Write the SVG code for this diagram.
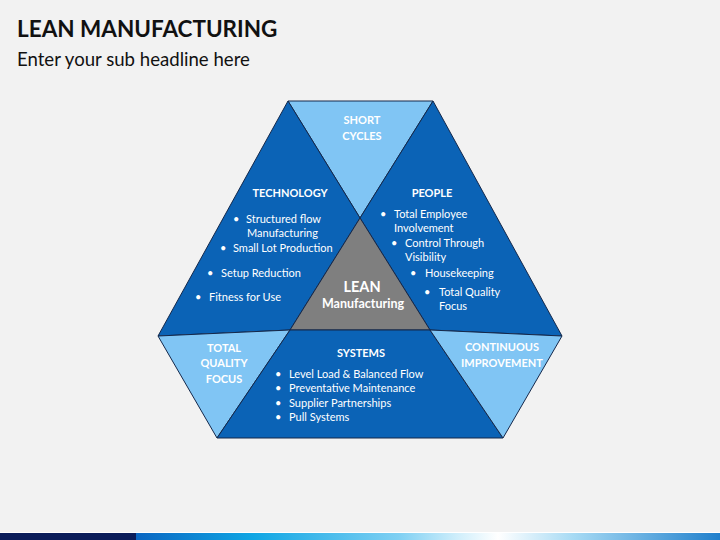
<svg xmlns="http://www.w3.org/2000/svg" width="720" height="540" viewBox="0 0 720 540">
<defs>
<linearGradient id="bar" x1="136" y1="0" x2="720" y2="0" gradientUnits="userSpaceOnUse">
<stop offset="0" stop-color="#0a66c2"/>
<stop offset="0.2" stop-color="#0fa6e4"/>
<stop offset="0.45" stop-color="#7fd0f3"/>
<stop offset="0.55" stop-color="#cfeefb"/>
<stop offset="0.62" stop-color="#ffffff"/>
<stop offset="0.75" stop-color="#a6daf4"/>
<stop offset="1" stop-color="#1f7fcc"/>
</linearGradient>
</defs>
<style>
.dark{fill:#0b63b6;stroke:#14284b;stroke-width:1;stroke-linejoin:round}
.light{fill:#80c5f4;stroke:#14284b;stroke-width:1;stroke-linejoin:round}
.core{fill:#7f7f7f;stroke:#14284b;stroke-width:1;stroke-linejoin:round}
.h{font-family:Lato,"Liberation Sans",sans-serif;font-weight:bold;font-size:11px;fill:#ffffff;text-anchor:middle}
.b{font-family:Lato,"Liberation Sans",sans-serif;font-size:11px;fill:#ffffff}
.lean{font-family:Lato,"Liberation Sans",sans-serif;font-weight:bold;fill:#ffffff;text-anchor:middle}
</style>
<rect x="0" y="0" width="720" height="540" fill="#f2f2f2"/>
<text x="17" y="37" font-family="Lato,'Liberation Sans',sans-serif" font-weight="bold" font-size="22.5" fill="#111111">LEAN MANUFACTURING</text>
<text x="17" y="66" font-family="Lato,'Liberation Sans',sans-serif" font-size="18.6" fill="#111111">Enter your sub headline here</text>

<g id="short-cycles">
<polygon class="light" points="288,101 433,101 360,218"/>
<text class="h" x="362" y="124">SHORT</text>
<text class="h" x="362" y="140">CYCLES</text>
</g>
<g id="technology">
<polygon class="dark" points="288,101 360,218 290,330 158,336"/>
<text class="h" x="290" y="197">TECHNOLOGY</text>
<text class="b" x="233" y="223">•</text><text class="b" x="246" y="223">Structured flow</text>
<text class="b" x="247" y="237">Manufacturing</text>
<text class="b" x="220" y="252">•</text><text class="b" x="233" y="252">Small Lot Production</text>
<text class="b" x="207" y="277">•</text><text class="b" x="221" y="277">Setup Reduction</text>
<text class="b" x="195" y="301">•</text><text class="b" x="209" y="301">Fitness for Use</text>
</g>
<g id="people">
<polygon class="dark" points="433,101 562,336 430,330 360,218"/>
<text class="h" x="432" y="197">PEOPLE</text>
<text class="b" x="380" y="218">•</text><text class="b" x="394" y="218">Total Employee</text>
<text class="b" x="394" y="232">Involvement</text>
<text class="b" x="391" y="247">•</text><text class="b" x="405" y="247">Control Through</text>
<text class="b" x="405" y="261">Visibility</text>
<text class="b" x="410" y="277">•</text><text class="b" x="425" y="277">Housekeeping</text>
<text class="b" x="424" y="296">•</text><text class="b" x="439" y="296">Total Quality</text>
<text class="b" x="439" y="310">Focus</text>
</g>
<g id="lean">
<polygon class="core" points="360,218 430,330 290,330"/>
<text class="lean" x="362" y="292" style="font-size:14.5px">LEAN</text>
<text class="lean" x="363" y="308" style="font-size:12.5px">Manufacturing</text>
</g>
<g id="total-quality-focus">
<polygon class="light" points="158,336 290,330 217,438"/>
<text class="h" x="224" y="352">TOTAL</text>
<text class="h" x="224" y="367">QUALITY</text>
<text class="h" x="224" y="383">FOCUS</text>
</g>
<g id="systems">
<polygon class="dark" points="290,330 430,330 503,438 217,438"/>
<text class="h" x="361" y="357">SYSTEMS</text>
<text class="b" x="275" y="378">•</text><text class="b" x="289" y="378">Level Load &amp; Balanced Flow</text>
<text class="b" x="275" y="392">•</text><text class="b" x="289" y="392">Preventative Maintenance</text>
<text class="b" x="275" y="407">•</text><text class="b" x="289" y="407">Supplier Partnerships</text>
<text class="b" x="275" y="421">•</text><text class="b" x="289" y="421">Pull Systems</text>
</g>
<g id="continuous-improvement">
<polygon class="light" points="430,330 562,336 503,438"/>
<text class="h" x="502" y="351">CONTINUOUS</text>
<text class="h" x="502" y="367">IMPROVEMENT</text>
</g>

<g id="footer-bar">
<rect x="0" y="532" width="720" height="1" fill="#ffffff"/>
<rect x="0" y="533" width="136" height="7" fill="#0b1d5a"/>
<rect x="136" y="533" width="584" height="7" fill="url(#bar)"/>
</g>
</svg>
